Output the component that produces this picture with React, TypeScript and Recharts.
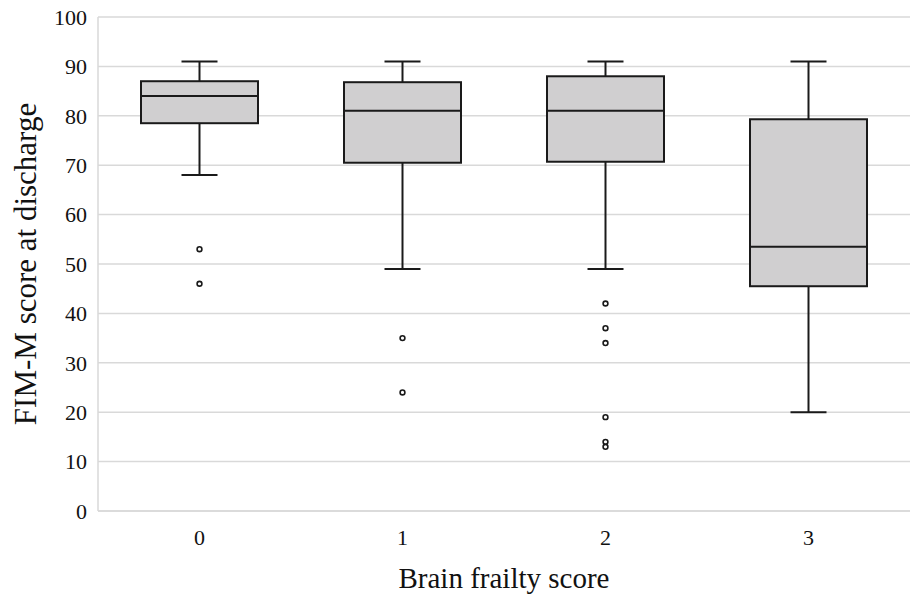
import { ComposedChart, Bar, XAxis, YAxis, CartesianGrid } from 'recharts';

const categories = ['0', '1', '2', '3'];
const whiskerLow = [68, 49, 49, 20];
const q1 = [78.5, 70.5, 70.7, 45.5];
const median = [84, 81, 81, 53.5];
const q3 = [87, 86.8, 88, 79.3];
const whiskerHigh = [91, 91, 91, 91];
const outliers = [[53, 46], [35, 24], [42, 37, 34, 19, 14, 13], []];
const yTicks = [0, 10, 20, 30, 40, 50, 60, 70, 80, 90, 100];

const data = categories.map((c, i) => ({
  name: c,
  box: [q1[i], q3[i]],
  low: whiskerLow[i],
  med: median[i],
  high: whiskerHigh[i],
  out: outliers[i],
}));

const FONT = '"Liberation Serif", "Times New Roman", serif';

// draws the whole box plot for one category; pixel positions come from
// the range bar that the library placed for [q1, q3]
const BoxShape = (props: any) => {
  const { x, y, width, height, payload } = props;
  const [lo, hi] = payload.box;
  const py = (v: number) => y + ((hi - v) * height) / (hi - lo);
  const cx = x + width / 2;
  const cap = 36;
  const stroke = '#1a1a1a';
  return (
    <g>
      <line x1={cx} x2={cx} y1={py(payload.high)} y2={y} stroke={stroke} strokeWidth={2} />
      <line x1={cx} x2={cx} y1={y + height} y2={py(payload.low)} stroke={stroke} strokeWidth={2} />
      <line x1={cx - cap / 2} x2={cx + cap / 2} y1={py(payload.high)} y2={py(payload.high)} stroke={stroke} strokeWidth={2} />
      <line x1={cx - cap / 2} x2={cx + cap / 2} y1={py(payload.low)} y2={py(payload.low)} stroke={stroke} strokeWidth={2} />
      <rect x={x} y={y} width={width} height={height} fill="#d0cfd0" stroke={stroke} strokeWidth={2} />
      <line x1={x} x2={x + width} y1={py(payload.med)} y2={py(payload.med)} stroke={stroke} strokeWidth={2} />
      {payload.out.map((v: number, k: number) => (
        <circle key={k} cx={cx} cy={py(v)} r={2.4} fill="#fff" stroke={stroke} strokeWidth={1.6} />
      ))}
    </g>
  );
};

export default function App() {
  return (
    <div style={{ position: 'absolute', left: 0, top: 0, background: '#fff' }}>
      <ComposedChart
        width={912}
        height={599}
        data={data}
        margin={{ top: 17, right: 2, bottom: 0, left: 0 }}
      >
        <CartesianGrid vertical={false} stroke="#d9d9d9" strokeWidth={1.5} />
        <XAxis
          dataKey="name"
          height={88}
          tickLine={false}
          axisLine={{ stroke: '#d9d9d9', strokeWidth: 1.5 }}
          tick={{ fill: '#111', fontSize: 22, style: { fontFamily: FONT } } as any}
          tickMargin={12}
          label={{
            value: 'Brain frailty score',
            position: 'insideBottom',
            offset: 11,
            style: { fontFamily: FONT, fontSize: 29, fill: '#111' },
          }}
        />
        <YAxis
          width={98}
          domain={[0, 100]}
          ticks={yTicks}
          interval={0}
          tickLine={false}
          axisLine={{ stroke: '#d9d9d9', strokeWidth: 1.5 }}
          tick={{ fill: '#111', fontSize: 22, style: { fontFamily: FONT } } as any}
          tickMargin={5}
          label={{
            value: 'FIM-M score at discharge',
            angle: -90,
            position: 'insideLeft',
            offset: 25,
            style: { fontFamily: FONT, fontSize: 31, fill: '#111', textAnchor: 'middle' },
          }}
        />
        <Bar dataKey="box" barSize={117} shape={<BoxShape />} isAnimationActive={false} />
      </ComposedChart>
    </div>
  );
}
